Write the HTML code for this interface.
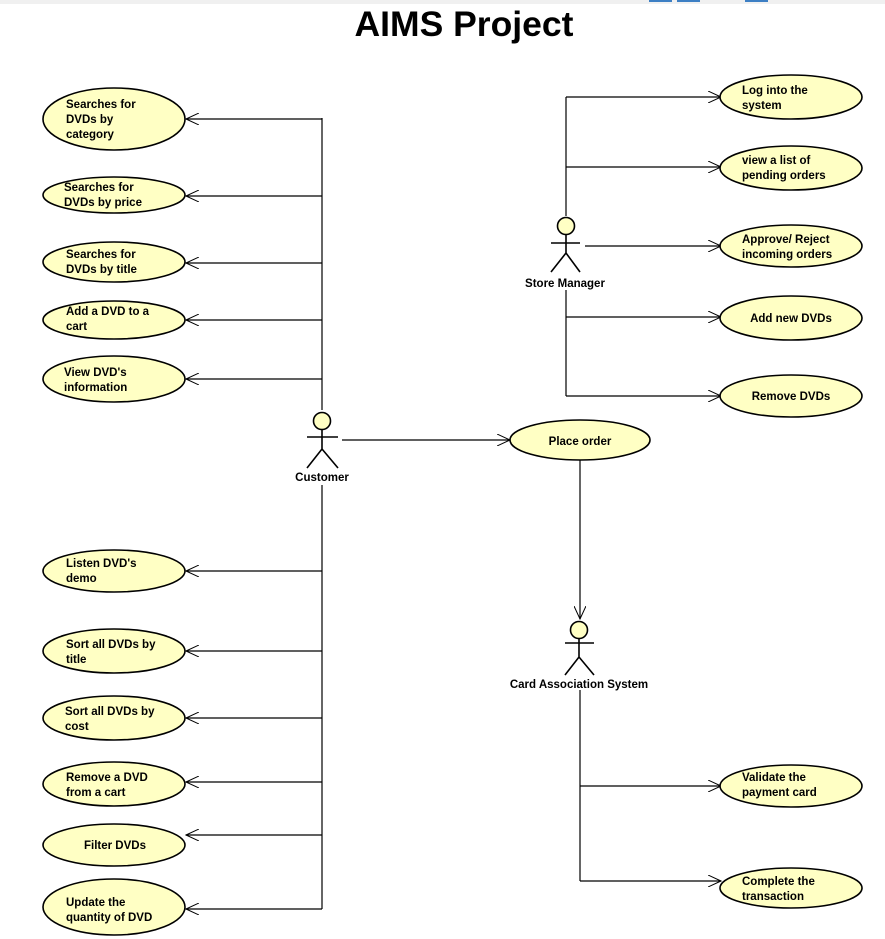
<!DOCTYPE html>
<html><head><meta charset="utf-8"><style>
html,body{margin:0;padding:0;background:#fff;}
svg{display:block;}
text{font-family:"Liberation Sans",Arial,sans-serif;font-weight:bold;font-size:11.5px;fill:#000;}
</style></head><body>
<svg width="885" height="939" viewBox="0 0 885 939" xmlns="http://www.w3.org/2000/svg">
<defs>
<marker id="a" markerWidth="14" markerHeight="12" refX="13" refY="6" orient="auto" markerUnits="userSpaceOnUse">
<path d="M0,0 L13,6 L0,12" fill="none" stroke="#000" stroke-width="1"/>
</marker>
</defs>
<rect x="0" y="0" width="885" height="4" fill="#f0f0f0"/>
<rect x="649" y="0" width="23" height="2" fill="#3d7fc4"/>
<rect x="677" y="0" width="23" height="2" fill="#3d7fc4"/>
<rect x="745" y="0" width="23" height="2" fill="#3d7fc4"/>
<text x="464" y="36" text-anchor="middle" style="font-size:35.5px;">AIMS Project</text>

<g stroke="#000" stroke-width="1.2" fill="none">
<path d="M322,118 V410 M322,485 V909"/>
<path d="M322,119 H186" marker-end="url(#a)"/>
<path d="M322,196 H186" marker-end="url(#a)"/>
<path d="M322,263 H186" marker-end="url(#a)"/>
<path d="M322,320 H186" marker-end="url(#a)"/>
<path d="M322,379 H186" marker-end="url(#a)"/>
<path d="M322,571 H186" marker-end="url(#a)"/>
<path d="M322,651 H186" marker-end="url(#a)"/>
<path d="M322,718 H186" marker-end="url(#a)"/>
<path d="M322,782 H186" marker-end="url(#a)"/>
<path d="M322,835 H186" marker-end="url(#a)"/>
<path d="M322,909 H186" marker-end="url(#a)"/>
<path d="M342,440 H510" marker-end="url(#a)"/>
<path d="M566,97 V216 M566,290 V396"/>
<path d="M566,97 H721" marker-end="url(#a)"/>
<path d="M566,167 H721" marker-end="url(#a)"/>
<path d="M585,246 H721" marker-end="url(#a)"/>
<path d="M566,317 H721" marker-end="url(#a)"/>
<path d="M566,396 H721" marker-end="url(#a)"/>
<path d="M580,460 V619" marker-end="url(#a)"/>
<path d="M580,690 V881"/>
<path d="M580,786 H721" marker-end="url(#a)"/>
<path d="M580,881 H721" marker-end="url(#a)"/>
</g>

<g fill="#ffffc4" stroke="#000" stroke-width="1.6">
<ellipse cx="114" cy="119" rx="71" ry="31"/>
<ellipse cx="114" cy="195" rx="71" ry="18"/>
<ellipse cx="114" cy="262" rx="71" ry="20"/>
<ellipse cx="114" cy="320" rx="71" ry="19"/>
<ellipse cx="114" cy="379" rx="71" ry="23"/>
<ellipse cx="114" cy="571" rx="71" ry="21"/>
<ellipse cx="114" cy="651" rx="71" ry="22"/>
<ellipse cx="114" cy="718" rx="71" ry="22"/>
<ellipse cx="114" cy="784" rx="71" ry="22"/>
<ellipse cx="114" cy="845" rx="71" ry="21"/>
<ellipse cx="114" cy="907" rx="71" ry="28"/>
<ellipse cx="580" cy="440" rx="70" ry="20"/>
<ellipse cx="791" cy="97" rx="71" ry="22"/>
<ellipse cx="791" cy="168" rx="71" ry="22"/>
<ellipse cx="791" cy="246" rx="71" ry="21"/>
<ellipse cx="791" cy="318" rx="71" ry="22"/>
<ellipse cx="791" cy="396" rx="71" ry="21"/>
<ellipse cx="791" cy="786" rx="71" ry="21"/>
<ellipse cx="791" cy="888" rx="71" ry="20"/>
</g>

<g stroke="#000" stroke-width="1.6" fill="none">
<circle cx="322" cy="421" r="8.5" fill="#ffffc4"/>
<path d="M322,430 V449 M307,437 H338 M307,468 L322,449 L338,468"/>
<circle cx="566" cy="226" r="8.5" fill="#ffffc4"/>
<path d="M566,235 V253 M551,243 H580 M551,272 L566,253 L580,272"/>
<circle cx="579" cy="630" r="8.5" fill="#ffffc4"/>
<path d="M579,639 V657 M565,643 H594 M565,675 L579,657 L594,675"/>
</g>
<text x="322" y="481" text-anchor="middle">Customer</text>
<text x="565" y="287" text-anchor="middle">Store Manager</text>
<text x="579" y="688" text-anchor="middle">Card Association System</text>
<text x="580" y="445" text-anchor="middle">Place order</text>

<text x="66" y="108">Searches for</text>
<text x="66" y="123">DVDs by</text>
<text x="66" y="138">category</text>
<text x="64" y="191">Searches for</text>
<text x="64" y="206">DVDs by price</text>
<text x="66" y="258">Searches for</text>
<text x="66" y="273">DVDs by title</text>
<text x="66" y="315">Add a DVD to a</text>
<text x="66" y="330">cart</text>
<text x="64" y="376">View DVD's</text>
<text x="64" y="391">information</text>
<text x="66" y="567">Listen DVD's</text>
<text x="66" y="582">demo</text>
<text x="66" y="648">Sort all DVDs by</text>
<text x="66" y="663">title</text>
<text x="65" y="715">Sort all DVDs by</text>
<text x="65" y="730">cost</text>
<text x="66" y="781">Remove a DVD</text>
<text x="66" y="796">from a cart</text>
<text x="115" y="849" text-anchor="middle">Filter DVDs</text>
<text x="66" y="906">Update the</text>
<text x="66" y="921">quantity of DVD</text>

<text x="742" y="94">Log into the</text>
<text x="742" y="109">system</text>
<text x="742" y="164">view a list of</text>
<text x="742" y="179">pending orders</text>
<text x="742" y="243">Approve/ Reject</text>
<text x="742" y="258">incoming orders</text>
<text x="791" y="322" text-anchor="middle">Add new DVDs</text>
<text x="791" y="400" text-anchor="middle">Remove DVDs</text>
<text x="742" y="781">Validate the</text>
<text x="742" y="796">payment card</text>
<text x="742" y="885">Complete the</text>
<text x="742" y="900">transaction</text>
</svg>
</body></html>
